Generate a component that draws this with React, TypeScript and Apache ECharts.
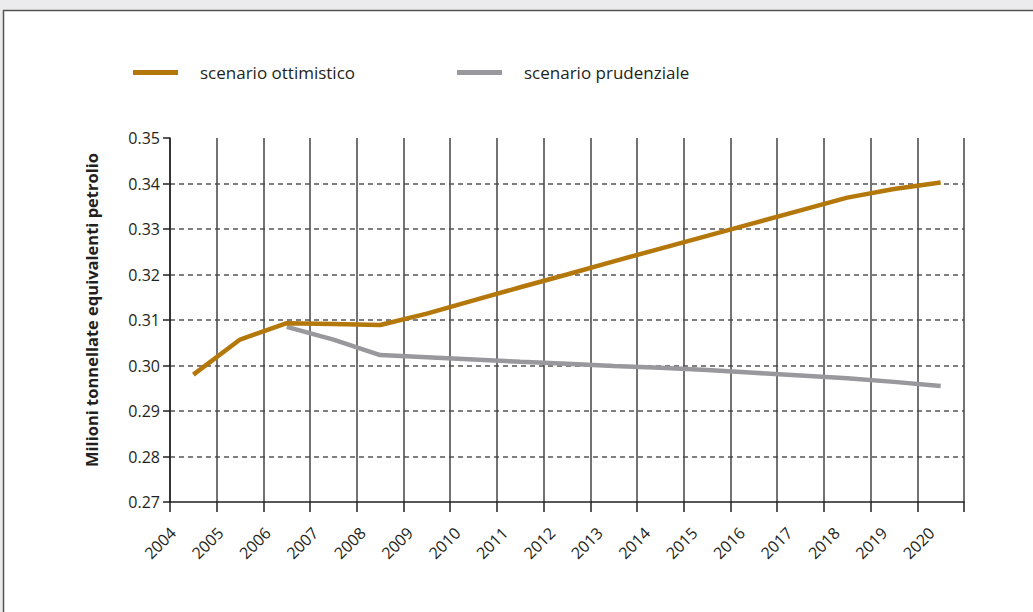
import React, { useEffect, useRef } from "react";
import * as echarts from "echarts";

const years = ["2004","2005","2006","2007","2008","2009","2010","2011","2012","2013","2014","2015","2016","2017","2018","2019","2020"];
const tickLabels = [...years, ""];
const ottimistico = [0.298,0.3057,0.3093,0.3091,0.3089,0.3114,0.3143,0.3172,0.3200,0.3229,0.3257,0.3285,0.3313,0.3341,0.3369,0.3388,0.3402];
const prudenziale = [null,null,0.3085,0.3057,0.3023,0.3018,0.3013,0.3008,0.3004,0.2999,0.2995,0.2990,0.2984,0.2978,0.2972,0.2964,0.2955];
const yTitle = "Milioni tonnellate equivalenti petrolio";
const nameOtt = "scenario ottimistico";
const namePru = "scenario prudenziale";

const ORANGE = "#b4780a";
const GRAY = "#98989d";
const INK = "#231f20";
const FRAME_BG = "#ebebed";
const FONT = "'Open Sans', 'Noto Sans', sans-serif";

export default function App() {
  const ref = useRef<HTMLDivElement>(null);
  useEffect(() => {
    if (!ref.current) return;
    const chart = echarts.init(ref.current, null, { renderer: "svg" });
    const legendText = { color: INK, fontSize: 17, fontFamily: FONT, padding: [0, 0, 0, 17] };
    chart.setOption({
      animation: false,
      backgroundColor: "#ffffff",
      textStyle: { fontFamily: FONT },
      graphic: [
        { type: "rect", shape: { x: 0, y: 0, width: 1033, height: 10 }, style: { fill: FRAME_BG }, silent: true },
        { type: "rect", shape: { x: 0, y: 0, width: 3, height: 612 }, style: { fill: FRAME_BG }, silent: true },
        { type: "line", shape: { x1: 3, y1: 10.5, x2: 1033, y2: 10.5 }, style: { stroke: "#555", lineWidth: 1.5 }, silent: true },
        { type: "line", shape: { x1: 3.5, y1: 10, x2: 3.5, y2: 612 }, style: { stroke: "#555", lineWidth: 1.5 }, silent: true },
      ],
      legend: [
        {
          data: [nameOtt],
          left: 133,
          top: 64,
          padding: 0,
          icon: "rect",
          itemWidth: 45,
          itemHeight: 5,
          textStyle: legendText,
        },
        {
          data: [namePru],
          left: 457,
          top: 64,
          padding: 0,
          icon: "rect",
          itemWidth: 45,
          itemHeight: 5,
          textStyle: legendText,
        },
      ],
      grid: [
        { left: 170, right: 69, top: 138, bottom: 110, containLabel: false },
        { left: 173, right: 54, top: 138, bottom: 110, containLabel: false },
      ],
      xAxis: [
        {
          type: "category",
          gridIndex: 0,
          data: years,
          boundaryGap: true,
          axisLine: { show: true, lineStyle: { color: INK, width: 1.5 } },
          axisTick: { show: true, length: 10, interval: 0, lineStyle: { color: INK, width: 1.5 } },
          axisLabel: { show: false },
          splitLine: { show: true, interval: 0, lineStyle: { color: "#444", width: 1.5, type: "solid" } },
        },
        {
          type: "category",
          gridIndex: 1,
          data: tickLabels,
          boundaryGap: false,
          position: "bottom",
          axisLine: { show: false },
          axisTick: { show: false },
          splitLine: { show: false },
          axisLabel: {
            show: true,
            interval: 0,
            rotate: 45,
            margin: 28,
            color: INK,
            fontSize: 16,
            fontFamily: FONT,
          },
        },
      ],
      yAxis: [
        {
          type: "value",
          gridIndex: 0,
          min: 0.27,
          max: 0.35,
          interval: 0.01,
          name: yTitle,
          nameLocation: "middle",
          nameRotate: 90,
          nameGap: 70,
          nameTextStyle: { color: INK, fontSize: 16.5, fontWeight: "bold", fontFamily: FONT, padding: [0, 0, 0, 20] },
          axisLine: { show: true, lineStyle: { color: INK, width: 1.5 } },
          axisTick: { show: true, length: 7, lineStyle: { color: INK, width: 1.5 } },
          axisLabel: {
            color: INK,
            fontSize: 16,
            fontFamily: FONT,
            margin: 10,
            formatter: (v: number) => v.toFixed(2),
          },
          splitLine: {
            show: true,
            showMinLine: false,
            showMaxLine: false,
            lineStyle: { color: "#555", width: 1.5, type: [5, 4] },
          },
        },
        {
          type: "value",
          gridIndex: 1,
          min: 0.27,
          max: 0.35,
          interval: 0.01,
          show: false,
          splitLine: { show: false },
        },
      ],
      series: [
        {
          name: nameOtt,
          type: "line",
          xAxisIndex: 0,
          yAxisIndex: 0,
          data: ottimistico,
          showSymbol: false,
          symbol: "none",
          lineStyle: { color: ORANGE, width: 4.5 },
          itemStyle: { color: ORANGE },
          z: 3,
        },
        {
          name: namePru,
          type: "line",
          xAxisIndex: 0,
          yAxisIndex: 0,
          data: prudenziale,
          showSymbol: false,
          symbol: "none",
          lineStyle: { color: GRAY, width: 4.5 },
          itemStyle: { color: GRAY },
          z: 2,
        },
      ],
    });
    return () => chart.dispose();
  }, []);
  return (
    <div
      ref={ref}
      style={{ position: "fixed", left: 0, top: 0, width: 1033, height: 612 }}
    />
  );
}
